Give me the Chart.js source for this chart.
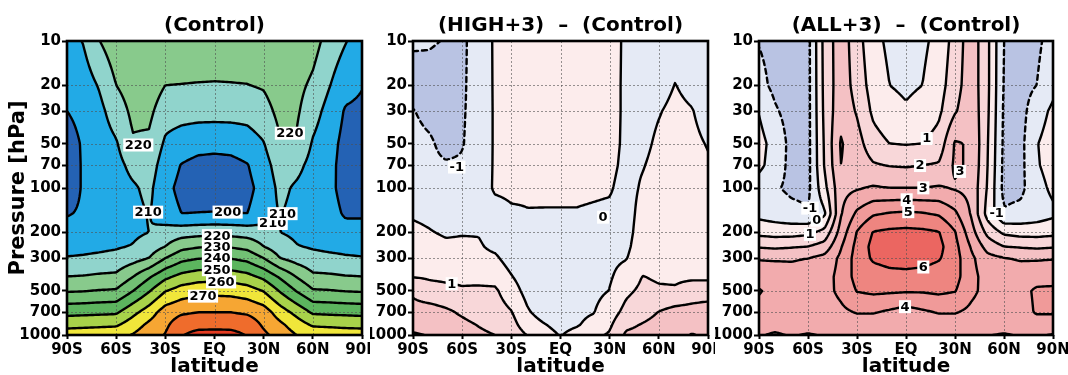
<!DOCTYPE html>
<html><head><meta charset="utf-8">
<script src="https://cdn.jsdelivr.net/npm/chart.js@4.4.1/dist/chart.umd.min.js"></script>
<style>
html,body{margin:0;padding:0;background:#fff;}
body{width:1068px;height:375px;position:relative;overflow:hidden;}
canvas.panel{position:absolute;top:0;}
</style></head><body>
<canvas id="c1" class="panel" style="left:0px" width="370" height="375"></canvas>
<canvas id="c2" class="panel" style="left:370px" width="345" height="375"></canvas>
<canvas id="c3" class="panel" style="left:715px" width="353" height="375"></canvas>
<script>
// ---------------- DATA ----------------
const latitudes = [-90,-80,-70,-60,-50,-40,-30,-20,-10,0,10,20,30,40,50,60,70,80,90];
const pressureLevels = [1000,850,700,500,400,300,250,200,150,100,70,50,30,20,10];
const latTickValues = [-90,-60,-30,0,30,60,90];
const latTickLabels = ['90S','60S','30S','EQ','30N','60N','90N'];
const pressureTicks = [10,20,30,50,70,100,200,300,500,700,1000];
const panelTitles = ['(Control)','(HIGH+3)  \u2013  (Control)','(ALL+3)  \u2013  (Control)'];

// One profile per latitude (90S..90N); values at pressureLevels (1000..10 hPa)
const controlTemp = [
 [265,257,247,229,220,210.5,207,203,199.5,196,196,197,200,203,206],
 [265.5,257.5,247.5,229.5,220.5,211,207.5,203.5,201,200.8,200.8,200.8,202,205,210.5],
 [266,258,248,230.5,221.5,212,208,205,203.5,203.5,204,205,207.5,211,220],
 [267,258.5,248.5,231,222,213,209,206,204.5,205,206.5,209,215,220,226],
 [270.5,265,257,239.5,229.5,216,210.5,208,207,208.5,213,219,222,224.5,229],
 [276,272,265,249,238.5,220,214.5,210,210.5,212.5,215,218,222.5,226,230],
 [280.5,278,275,259.5,247.5,230,220,214,204,202.5,205,208.5,214,220,227],
 [289.5,286,278.5,264.5,253,237,227,215.5,200,197.5,199.5,205.5,213.5,219.8,226],
 [293,287,280,266.5,255.5,239.5,229,216.5,200.3,195.5,197,203.5,213.5,219.6,225.5],
 [293.5,287,280,267,256,240,230,217,200.5,195,196.5,203,213.5,219.5,225],
 [293,287,280,266.5,255.5,239.5,229,216.5,200.3,195.5,197,203.5,213.5,219.6,225.5],
 [289.5,286,278.5,264.5,253,237,227,215.5,200,197.5,199.5,205.5,213.5,219.8,226],
 [282,278.5,275,259.5,247.5,230,220,214,205,203.5,206,209.5,216,221,226],
 [276,272,265,249,238.5,220,214.5,210,210.5,212.5,215,219,223,226,230],
 [270,265,257,239.5,229.5,216,210.5,208,207,208.5,213,219,221.5,223,228],
 [267,258.5,248.5,231,222,213,209,206,204.5,205,206.5,209,214,218,224],
 [266,258,248,230.5,221.5,212,208,205,203,202,202.5,203.5,206.5,210.5,216],
 [265,257.5,247.5,229.5,220.5,211,207.5,203,199,197,196.5,197,199,203.5,210.5],
 [265,257,247,229,220,210.5,207,203,199,196,195.5,196,198,200.5,205]
];
const highMinusControl = [
 [3.1,2.7,2.4,1.8,0.95,0.6,0.4,0.2,-0.1,-0.4,-0.55,-0.7,-0.95,-1.5,-0.85],
 [2.95,2.7,2.5,1.3,0.9,0.55,0.3,0.05,-0.2,-0.5,-0.8,-0.85,-1.3,-1.4,-0.9],
 [2.6,2.4,2.2,1.2,0.85,0.4,0.15,-0.1,-0.35,-0.7,-0.9,-1.3,-1.5,-1.5,-1.05],
 [2.5,2.25,1.85,1.1,0.8,0.35,0.15,-0.05,-0.3,-0.6,-0.9,-1.05,-1.1,-1.15,-1.2],
 [2.2,1.95,1.5,1.15,0.75,0.25,0.1,-0.05,-0.3,-0.45,-0.55,-0.6,-0.6,-0.55,-0.5],
 [2.0,1.7,1.45,1.15,0.65,0.15,-0.2,-0.35,-0.3,0.1,0.1,0.1,0.1,0.1,0.1],
 [1.6,1.35,1.05,0.45,0.05,-0.4,-0.45,-0.4,-0.1,0.15,0.3,0.35,0.4,0.45,0.5],
 [0.95,0.45,0.1,-0.35,-0.55,-0.6,-0.55,-0.4,-0.03,0.1,0.35,0.45,0.5,0.55,0.6],
 [0.35,0.05,-0.4,-0.6,-0.65,-0.65,-0.55,-0.4,-0.05,0.15,0.4,0.5,0.55,0.6,0.65],
 [-0.05,-0.3,-0.5,-0.65,-0.7,-0.65,-0.55,-0.4,-0.05,0.15,0.4,0.5,0.55,0.6,0.65],
 [0.35,-0.1,-0.25,-0.5,-0.6,-0.55,-0.5,-0.4,-0.05,0.15,0.35,0.45,0.5,0.55,0.6],
 [0.8,0.35,-0.05,-0.25,-0.4,-0.45,-0.45,-0.4,-0.1,0.12,0.3,0.4,0.45,0.5,0.55],
 [1.1,0.85,0.55,0.02,-0.1,-0.2,-0.25,-0.25,-0.15,0.08,0.2,0.25,0.3,0.3,0.35],
 [2.15,1.8,1.3,0.8,0.4,-0.05,-0.2,-0.3,-0.35,-0.3,-0.2,-0.15,-0.15,-0.15,-0.15],
 [2.25,2.05,1.65,1.2,1.02,0.6,0.5,0.4,0.3,0.1,-0.05,-0.2,-0.3,-0.35,-0.35],
 [2.5,2.3,2.03,1.1,0.9,0.7,0.6,0.5,0.45,0.35,0.25,0.15,-0.05,-0.3,-0.6],
 [2.6,2.4,2.35,1.1,0.85,0.7,0.6,0.5,0.45,0.4,0.35,0.3,0.2,0.02,-0.3],
 [3.05,2.7,2.4,1.4,0.85,0.7,0.6,0.5,0.45,0.35,0.3,0.2,0.05,-0.25,-0.5],
 [2.85,2.6,2.6,1.4,0.85,0.65,0.55,0.45,0.35,0.2,0.1,-0.05,-0.35,-0.55,-0.6]
];
const allMinusControl = [
 [3.1,3.4,3.6,4.1,3.4,2.95,1.9,0.7,-0.3,-0.5,0.25,0.35,-0.05,-0.7,-1.05],
 [2.85,3.4,3.6,3.6,3.5,2.9,1.8,0.6,-0.5,-0.9,-0.5,-0.4,-0.9,-1.25,-1.3],
 [3.1,3.5,3.5,3.5,3.4,2.9,1.9,0.6,-0.7,-1.2,-1.3,-1.3,-1.35,-1.35,-1.3],
 [2.9,3.5,3.6,3.6,3.5,3.0,2.0,0.75,-0.9,-1.25,-1.3,-1.3,-1.3,-1.3,-1.3],
 [3.1,3.5,3.6,3.7,3.6,3.3,2.4,1.3,-0.2,0.7,1.05,1.1,1.2,1.25,1.3],
 [3.3,3.6,3.8,4.2,4.3,4.2,3.9,3.4,2.9,2.7,3.0,3.1,2.7,2.6,2.6],
 [3.3,3.6,4.05,5.05,5.35,5.4,5.3,5.05,4.2,2.9,2.6,2.4,1.9,1.6,1.4],
 [3.3,3.6,4.05,5.2,5.5,6.15,6.3,6.05,4.9,3.1,2.1,1.4,0.8,0.55,0.3],
 [3.25,3.5,3.85,5.15,5.65,6.4,6.55,6.2,5.1,3.0,1.95,1.0,0.3,0.0,-0.2],
 [3.2,3.5,3.6,5.1,5.7,6.45,6.6,6.25,5.2,3.0,1.9,0.95,0.1,-0.15,-0.5],
 [3.25,3.5,3.85,5.1,5.6,6.4,6.55,6.2,5.1,3.0,2.0,1.0,0.3,0.0,-0.2],
 [3.3,3.6,4.05,5.2,5.45,6.1,6.3,6.05,4.9,3.1,2.1,1.4,0.8,0.55,0.3],
 [3.3,3.6,4.05,5.05,5.35,5.4,5.3,5.05,4.2,2.9,3.15,3.1,1.9,1.6,1.4],
 [3.3,3.6,3.8,4.2,4.3,4.2,3.9,3.4,2.9,2.7,2.85,2.9,2.7,2.6,2.6],
 [3.05,3.5,3.6,3.7,3.6,3.3,2.6,1.7,0.6,0.9,1.0,1.05,1.15,1.2,1.2],
 [2.9,3.5,3.6,3.6,3.5,3.05,2.0,0.8,-0.9,-1.3,-1.25,-1.2,-1.15,-1.1,-1.05],
 [3.1,3.5,3.6,3.7,3.5,2.9,1.9,0.6,-0.7,-1.25,-1.3,-1.3,-1.35,-1.35,-1.3],
 [3.1,3.5,4.1,4.15,3.6,2.9,1.8,0.6,-0.5,-0.35,-0.1,-0.05,-0.45,-1.0,-1.2],
 [2.95,3.5,4.1,4.2,3.6,2.95,1.9,0.7,-0.2,0.2,0.4,0.45,0.2,-0.3,-0.6]
];
const controlLevels = [200,210,220,230,240,250,260,270,280,290];
const diffLevels = [-2,-1,0,1,2,3,4,5,6,7];

// label anchors: [contour value, latitude, pressure]
const controlLabels = [[220,-46.5,51],[220,46,50],[210,35.5,170],[210,-40.5,146],[200,8,142],[210,41.5,146],
  [220,1.5,218],[230,1.5,259],[240,1.5,306],[250,1.5,380],[260,4,450],[270,-7,575]];
const highLabels = [[-1,-63.3,72],[0,26,158],[1,-66.4,456]];
const allLabels = [[1,12.7,52],[2,8.6,77],[3,10.6,100],[3,33,84],[4,0.4,112],[5,1.4,141],[6,10.6,344],[4,-0.6,640],
  [-1,-58.8,137],[0,-54.7,168],[1,-58.8,215],[-1,55.5,149]];

// ---------------- STYLE ----------------
const controlColors = ['#2462b4','#22aae6','#90d4cc','#88ca8c','#72c074','#5cb55e','#a8d24a','#f0e63a','#f6a633','#ef6c2c','#e53c22'];
const diffColors = ['#a9b5dc','#b9c3e3','#e5eaf5','#fcecec','#f8d7d9','#f4c1c4','#f2abad','#f09a99','#ee8580','#eb6661','#e64e48'];

function makeField(profiles){
  const lp = pressureLevels.map(p=>Math.log10(p));
  const L = latitudes;
  return function(lat,p){
    let i=0; while(i<L.length-2 && lat>L[i+1]) i++;
    let tx=(lat-L[i])/(L[i+1]-L[i]); tx=Math.max(0,Math.min(1,tx));
    const y=Math.log10(p);
    let k=0; while(k<lp.length-2 && y<lp[k+1]) k++;
    let ty=(y-lp[k])/(lp[k+1]-lp[k]); ty=Math.max(0,Math.min(1,ty));
    const a=profiles[i][k], b=profiles[i+1][k], c=profiles[i][k+1], d=profiles[i+1][k+1];
    return a*(1-tx)*(1-ty)+b*tx*(1-ty)+c*(1-tx)*ty+d*tx*ty;
  };
}

const panels = {
  c1:{field:makeField(controlTemp), levels:controlLevels, colors:controlColors, labels:controlLabels, title:panelTitles[0], ylabel:true, yWidth:67, padRight:8},
  c2:{field:makeField(highMinusControl), levels:diffLevels, colors:diffColors, labels:highLabels, title:panelTitles[1], ylabel:false, yWidth:43, padRight:7},
  c3:{field:makeField(allMinusControl), levels:diffLevels, colors:diffColors, labels:allLabels, title:panelTitles[2], ylabel:false, yWidth:44, padRight:15}
};

function hexRgb(h){return [parseInt(h.slice(1,3),16),parseInt(h.slice(3,5),16),parseInt(h.slice(5,7),16)];}

function tracePaths(G,nx,ny,XP,YP,L){
  const pts=new Map(); const segs=[];
  const hpt=(i,j)=>{const k=2*(j*nx+i); if(!pts.has(k)){const a=G[j*nx+i],b=G[j*nx+i+1];const t=(L-a)/(b-a);pts.set(k,[XP[i]+t*(XP[i+1]-XP[i]),YP[j]]);} return k;};
  const vpt=(i,j)=>{const k=2*(j*nx+i)+1; if(!pts.has(k)){const a=G[j*nx+i],b=G[(j+1)*nx+i];const t=(L-a)/(b-a);pts.set(k,[XP[i],YP[j]+t*(YP[j+1]-YP[j])]);} return k;};
  for(let j=0;j<ny-1;j++) for(let i=0;i<nx-1;i++){
    const a=G[j*nx+i], b=G[j*nx+i+1], c=G[(j+1)*nx+i+1], d=G[(j+1)*nx+i];
    const idx=(a>=L?8:0)|(b>=L?4:0)|(c>=L?2:0)|(d>=L?1:0);
    if(idx===0||idx===15) continue;
    const T=()=>hpt(i,j), B=()=>hpt(i,j+1), Lf=()=>vpt(i,j), R=()=>vpt(i+1,j);
    switch(idx){
      case 1: case 14: segs.push([Lf(),B()]); break;
      case 2: case 13: segs.push([B(),R()]); break;
      case 3: case 12: segs.push([Lf(),R()]); break;
      case 4: case 11: segs.push([T(),R()]); break;
      case 6: case 9: segs.push([T(),B()]); break;
      case 7: case 8: segs.push([T(),Lf()]); break;
      case 5: {const m=(a+b+c+d)/4; if(m>=L){segs.push([T(),Lf()]);segs.push([B(),R()]);} else {segs.push([T(),R()]);segs.push([Lf(),B()]);} break;}
      case 10: {const m=(a+b+c+d)/4; if(m>=L){segs.push([T(),R()]);segs.push([Lf(),B()]);} else {segs.push([T(),Lf()]);segs.push([B(),R()]);} break;}
    }
  }
  const adj=new Map();
  segs.forEach((s,k)=>s.forEach(key=>{let l=adj.get(key); if(!l){l=[];adj.set(key,l);} l.push(k);}));
  const used=new Uint8Array(segs.length); const paths=[];
  const nextFrom=key=>{for(const m of adj.get(key)) if(!used[m]) return m; return -1;};
  for(let k=0;k<segs.length;k++){
    if(used[k]) continue; used[k]=1;
    const path=[segs[k][0],segs[k][1]];
    let cur=segs[k][1], m;
    while((m=nextFrom(cur))>=0){used[m]=1; const s=segs[m]; cur=(s[0]===cur)?s[1]:s[0]; path.push(cur);}
    cur=segs[k][0];
    while((m=nextFrom(cur))>=0){used[m]=1; const s=segs[m]; cur=(s[0]===cur)?s[1]:s[0]; path.unshift(cur);}
    paths.push(path.map(key=>pts.get(key)));
  }
  return paths;
}

const contourPlugin = {
  id:'contourPanel',
  afterDatasetsDraw(chart){
    const P=panels[chart.canvas.id];
    const ctx=chart.ctx, A=chart.chartArea, xs=chart.scales.x, ys=chart.scales.y, f=P.field;
    const w=Math.round(A.right-A.left), h=Math.round(A.bottom-A.top);
    // filled shading, sampled through the scales
    const off=document.createElement('canvas'); off.width=w; off.height=h;
    const octx=off.getContext('2d'); const img=octx.createImageData(w,h);
    const rgb=P.colors.map(hexRgb);
    const latCol=[]; for(let i=0;i<w;i++) latCol.push(xs.getValueForPixel(A.left+i+0.5));
    for(let j=0;j<h;j++){
      const p=ys.getValueForPixel(A.top+j+0.5);
      for(let i=0;i<w;i++){
        const v=f(latCol[i],p); let n=0; while(n<P.levels.length && v>=P.levels[n]) n++;
        const c=rgb[n], o=4*(j*w+i); img.data[o]=c[0]; img.data[o+1]=c[1]; img.data[o+2]=c[2]; img.data[o+3]=255;
      }
    }
    octx.putImageData(img,0,0);
    ctx.save();
    ctx.drawImage(off,A.left,A.top);
    // dotted grid through the scales
    ctx.beginPath(); ctx.rect(A.left,A.top,A.right-A.left,A.bottom-A.top); ctx.clip();
    ctx.strokeStyle='rgba(80,80,80,0.6)'; ctx.lineWidth=1; ctx.setLineDash([2,2]);
    latTickValues.slice(1,-1).forEach(v=>{const x=Math.round(xs.getPixelForValue(v))+0.5; ctx.beginPath(); ctx.moveTo(x,A.top); ctx.lineTo(x,A.bottom); ctx.stroke();});
    pressureTicks.slice(1,-1).forEach(v=>{const y=Math.round(ys.getPixelForValue(v))+0.5; ctx.beginPath(); ctx.moveTo(A.left,y); ctx.lineTo(A.right,y); ctx.stroke();});
    // contour lines
    const step=2; const XP=[], YP=[];
    for(let x=A.left;x<A.right;x+=step) XP.push(x); XP.push(A.right);
    for(let y=A.top;y<A.bottom;y+=step) YP.push(y); YP.push(A.bottom);
    const nx=XP.length, ny=YP.length; const G=new Float64Array(nx*ny);
    const latG=XP.map(x=>xs.getValueForPixel(x));
    for(let j=0;j<ny;j++){const p=ys.getValueForPixel(YP[j]); for(let i=0;i<nx;i++) G[j*nx+i]=f(latG[i],p);}
    ctx.strokeStyle='#000'; ctx.lineWidth=2.4; ctx.lineJoin='round'; ctx.lineCap='round';
    P.levels.forEach(L=>{
      const paths=tracePaths(G,nx,ny,XP,YP,L);
      ctx.setLineDash(L<0?[5,4]:[]);
      paths.forEach(pt=>{ if(pt.length<2) return; ctx.beginPath(); ctx.moveTo(pt[0][0],pt[0][1]); for(let k=1;k<pt.length;k++) ctx.lineTo(pt[k][0],pt[k][1]); ctx.stroke(); });
    });
    ctx.setLineDash([]);
    // contour labels
    ctx.font='bold 13px "DejaVu Sans", sans-serif'; ctx.textAlign='center'; ctx.textBaseline='middle';
    P.labels.forEach(([v,lat,p])=>{
      const px=xs.getPixelForValue(lat), py0=ys.getPixelForValue(p);
      let best=null, prev=f(lat,ys.getValueForPixel(py0-11))-v;
      for(let dy=-10;dy<=11;dy++){const cur=f(lat,ys.getValueForPixel(py0+dy))-v; if((prev<0)!==(cur<0)){const yy=py0+dy-1+prev/(prev-cur); if(best===null||Math.abs(yy-py0)<Math.abs(best-py0)) best=yy;} prev=cur;}
      const py=best===null?py0:best;
      const txt=String(v); const tw=ctx.measureText(txt).width;
      ctx.fillStyle='#fff'; ctx.fillRect(px-tw/2-1.5,py-6.5,tw+3,13);
      ctx.fillStyle='#000'; ctx.fillText(txt,px,py+0.5);
    });
    ctx.restore();
    // frame
    ctx.save(); ctx.strokeStyle='#000'; ctx.lineWidth=2.6; ctx.strokeRect(A.left,A.top,A.right-A.left,A.bottom-A.top);
    // titles
    ctx.fillStyle='#000'; ctx.textAlign='center'; ctx.textBaseline='alphabetic';
    ctx.font='bold 20px "DejaVu Sans", sans-serif';
    ctx.fillText(P.title,(A.left+A.right)/2,31);
    ctx.fillText('latitude',(A.left+A.right)/2,372);
    if(P.ylabel){ ctx.translate(24,(A.top+A.bottom)/2); ctx.rotate(-Math.PI/2); ctx.font='bold 21px "DejaVu Sans", sans-serif'; ctx.fillText('Pressure [hPa]',0,0); }
    ctx.restore();
  }
};

function makeChart(id){
  const P=panels[id];
  return new Chart(document.getElementById(id),{
    type:'scatter',
    data:{datasets:[{data:[],pointRadius:0}]},
    options:{
      responsive:false, animation:false, devicePixelRatio:1, events:[],
      layout:{padding:{left:0,right:P.padRight,top:41,bottom:0}},
      plugins:{legend:{display:false},tooltip:{enabled:false},title:{display:false}},
      scales:{
        x:{type:'linear',min:-90,max:90,
          afterBuildTicks:s=>{s.ticks=latTickValues.map(v=>({value:v}));},
          afterFit:s=>{s.height=40; s.paddingLeft=0; s.paddingRight=0;},
          ticks:{autoSkip:false,maxRotation:0,padding:2,color:'#000',
            font:{family:'"DejaVu Sans",sans-serif',size:15,weight:'bold'},
            callback:v=>{const k=latTickValues.indexOf(v); return k>=0?latTickLabels[k]:'';}},
          grid:{drawOnChartArea:false,drawTicks:true,tickLength:4,tickWidth:2,tickColor:'#000'},
          border:{display:false}},
        y:{type:'logarithmic',min:10,max:1000,reverse:true,
          afterBuildTicks:s=>{s.ticks=pressureTicks.map(v=>({value:v}));},
          afterFit:s=>{s.width=P.yWidth; s.paddingTop=0; s.paddingBottom=0;},
          ticks:{autoSkip:false,padding:1,color:'#000',
            font:{family:'"DejaVu Sans",sans-serif',size:15,weight:'bold'},
            callback:v=>String(v)},
          grid:{drawOnChartArea:false,drawTicks:true,tickLength:5,tickWidth:2,tickColor:'#000'},
          border:{display:false}}
      }
    },
    plugins:[contourPlugin]
  });
}
makeChart('c1'); makeChart('c2'); makeChart('c3');
</script>
</body></html>
